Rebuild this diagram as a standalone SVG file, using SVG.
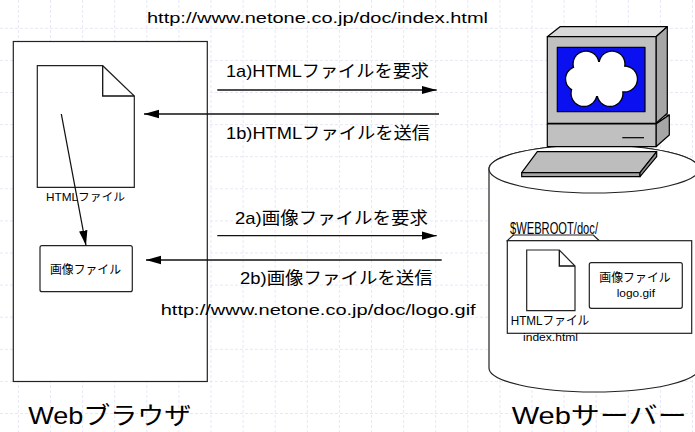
<svg xmlns="http://www.w3.org/2000/svg" width="695" height="432" viewBox="0 0 695 432">
  <style>
    .t { font-family: "Liberation Sans", "Noto Sans CJK JP", sans-serif; fill: #000; }
    .box { fill: #fff; stroke: #222; stroke-width: 1.2; }
    .ln { fill: none; stroke: #111; stroke-width: 1.3; }
    .pc { stroke: #000; stroke-width: 1.2; stroke-linejoin: round; }
    .grid { fill: none; stroke: #e6e8f7; stroke-width: 1; stroke-dasharray: 3 2; }
  </style>
  <defs>
    <marker id="arr" markerUnits="userSpaceOnUse" markerWidth="16" markerHeight="10" refX="15" refY="5" orient="auto">
      <path d="M0,0.8 L15,5 L0,9.2 Z" fill="#000"/>
    </marker>
  </defs>

  <rect width="695" height="432" fill="#fff"/>

  <!-- background grid -->
  <path class="grid" d="M18.4,0V432M50.5,0V432M82.6,0V432M114.7,0V432M146.8,0V432M178.9,0V432M211,0V432M243.1,0V432M275.2,0V432M307.3,0V432M339.4,0V432M371.5,0V432M403.6,0V432M435.7,0V432M467.8,0V432M499.9,0V432M532,0V432M564.1,0V432M596.2,0V432M628.3,0V432M660.4,0V432M692.5,0V432
    M0,28.3H695M0,60.4H695M0,92.5H695M0,124.6H695M0,156.7H695M0,188.8H695M0,220.9H695M0,253H695M0,285.1H695M0,317.2H695M0,349.3H695M0,381.4H695M0,413.5H695"/>

  <!-- Web browser -->
  <g id="browser">
    <rect class="box" x="13.3" y="41.5" width="194" height="340"/>
    <g id="browser-html">
      <path class="box" d="M37.3,65.7H102.7L134.3,96V187.3H37.3Z"/>
      <path class="ln" d="M102.7,65.7V96H134.3" stroke-width="1.2"/>
      <text class="t" x="46" y="200.5" font-size="11" textLength="79" lengthAdjust="spacingAndGlyphs">HTMLファイル</text>
    </g>
    <g id="browser-image">
      <rect class="box" x="40" y="245.7" width="92.3" height="46" rx="2"/>
      <text class="t" x="50" y="273.5" font-size="12" textLength="71" lengthAdjust="spacingAndGlyphs">画像ファイル</text>
    </g>
    <text class="t" x="28.3" y="423.5" font-size="24" textLength="163" lengthAdjust="spacingAndGlyphs">Webブラウザ</text>
  </g>

  <!-- Web server -->
  <g id="server">
    <path class="box" d="M489,169V368A105,24 0 0,0 699,368V169A105,24 0 0,0 489,169Z"/>
    <ellipse class="box" cx="594" cy="169" rx="105" ry="24"/>

    <!-- computer -->
    <g id="computer">
      <!-- keyboard -->
      <path class="pc" fill="#bdbdbd" d="M537.3,151.7H656.7L640,172.7H521.7Z"/>
      <path class="pc" fill="#a3a3a3" d="M521.7,172.7H640V176.7H521.7Z"/>
      <path class="pc" fill="#8f8f8f" d="M640,172.7L656.7,151.7V156.7L640,176.7Z"/>
      <!-- base unit -->
      <path class="pc" fill="#d3d3d3" d="M547.3,124L558,115H669.3L656,124Z"/>
      <path class="pc" fill="#a6a6a6" d="M656,124L669.3,115V135L656,146.7Z"/>
      <rect class="pc" fill="#c0c0c0" x="547.3" y="124" width="108.7" height="22.7"/>
      <path class="pc" d="M622.3,137.7H644" fill="none"/>
      <!-- monitor -->
      <path class="pc" fill="#d9d9d9" d="M547.3,36.7L560,26.7H667.3L656,36.7Z"/>
      <path class="pc" fill="#a6a6a6" d="M656,36.7L667.3,26.7V113.3L656,123.3Z"/>
      <rect class="pc" fill="#c0c0c0" x="547.3" y="36.7" width="108.7" height="86.6"/>
      <rect class="pc" fill="#0a10f0" x="557.3" y="47.3" width="87.7" height="64.4"/>
      <!-- cloud: outlined circles, then filled again to keep only the outer edge -->
      <g stroke="#000" stroke-width="2.6" fill="#fff">
        <circle cx="586" cy="64" r="12.3"/>
        <circle cx="612" cy="64" r="12.3"/>
        <circle cx="624.5" cy="79" r="12.3"/>
        <circle cx="610" cy="93.5" r="12.3"/>
        <circle cx="584" cy="93.5" r="12.3"/>
        <circle cx="578" cy="79" r="11.8"/>
      </g>
      <g fill="#fff">
        <circle cx="586" cy="64" r="12.3"/>
        <circle cx="612" cy="64" r="12.3"/>
        <circle cx="624.5" cy="79" r="12.3"/>
        <circle cx="610" cy="93.5" r="12.3"/>
        <circle cx="584" cy="93.5" r="12.3"/>
        <circle cx="578" cy="79" r="11.8"/>
        <rect x="582" y="62" width="34" height="34"/>
      </g>
    </g>

    <!-- document folder -->
    <g id="server-folder">
      <path class="box" d="M507.3,240.7L513.3,235H593.3L599.3,240.7Z"/>
      <rect class="box" x="507.3" y="240.7" width="184.4" height="92.6"/>
      <text class="t" x="510" y="234" font-size="16.5" textLength="88" lengthAdjust="spacingAndGlyphs">$WEBROOT/doc/</text>
    </g>
    <g id="server-html">
      <path class="box" d="M526.7,250H559.3L575,266V310.7H526.7Z"/>
      <path class="ln" d="M559.3,250V266H575" stroke-width="1.2"/>
      <text class="t" x="510.7" y="324.5" font-size="12.5" textLength="78.6" lengthAdjust="spacingAndGlyphs">HTMLファイル</text>
      <text class="t" x="523" y="340.5" font-size="11.5" textLength="55" lengthAdjust="spacingAndGlyphs">index.html</text>
    </g>
    <g id="server-image">
      <rect class="box" x="589.3" y="262.7" width="93" height="45.6" rx="2"/>
      <text class="t" x="599.3" y="282" font-size="12" textLength="71.4" lengthAdjust="spacingAndGlyphs">画像ファイル</text>
      <text class="t" x="616.7" y="297.3" font-size="11.5" textLength="38.3" lengthAdjust="spacingAndGlyphs">logo.gif</text>
    </g>
    <text class="t" x="511.7" y="423.5" font-size="24" textLength="175" lengthAdjust="spacingAndGlyphs">Webサーバー</text>
  </g>

  <!-- connectors -->
  <g id="connectors">
    <path class="ln" d="M61.3,114L86,245.5" marker-end="url(#arr)"/>
    <path class="ln" d="M217.3,90H436.7" marker-end="url(#arr)"/>
    <path class="ln" d="M439,114H144" marker-end="url(#arr)"/>
    <path class="ln" d="M217.3,235.7H436.7" marker-end="url(#arr)"/>
    <path class="ln" d="M441.7,260H146" marker-end="url(#arr)"/>
  </g>

  <!-- connector labels -->
  <g id="labels">
    <text class="t" x="147" y="22.5" font-size="15.5" textLength="341" lengthAdjust="spacingAndGlyphs">http://www.netone.co.jp/doc/index.html</text>
    <text class="t" x="226" y="76.5" font-size="17" textLength="203" lengthAdjust="spacingAndGlyphs">1a)HTMLファイルを要求</text>
    <text class="t" x="226" y="139" font-size="17" textLength="204" lengthAdjust="spacingAndGlyphs">1b)HTMLファイルを送信</text>
    <text class="t" x="235" y="224" font-size="17" textLength="193" lengthAdjust="spacingAndGlyphs">2a)画像ファイルを要求</text>
    <text class="t" x="240" y="284" font-size="17" textLength="192.7" lengthAdjust="spacingAndGlyphs">2b)画像ファイルを送信</text>
    <text class="t" x="160.7" y="314.5" font-size="15.5" textLength="315" lengthAdjust="spacingAndGlyphs">http://www.netone.co.jp/doc/logo.gif</text>
  </g>
</svg>
